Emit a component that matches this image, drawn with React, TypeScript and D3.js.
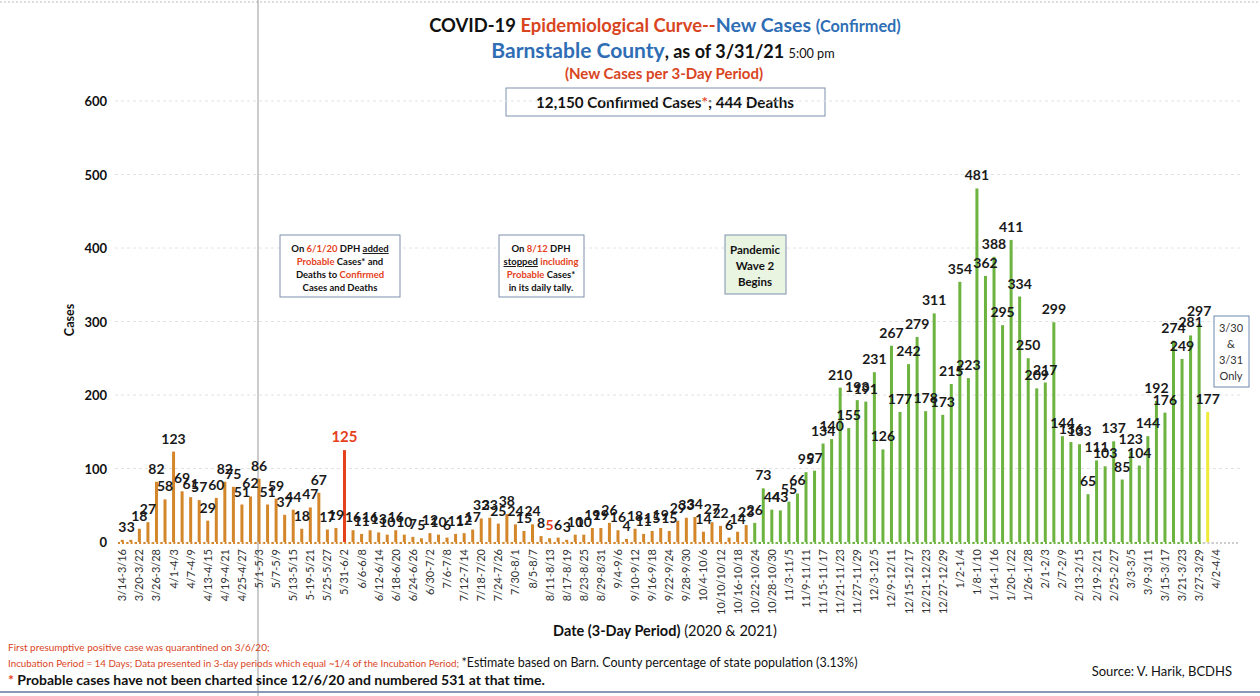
import * as d3 from "d3";

// new confirmed cases per 3-day period, 3/14/20 .. 3/30/21
const cases = [
  3, 3, 18, 27, 82, 58, 123, 69, 61, 57, 29, 60, 82, 75, 51, 62, 86, 51, 59, 37,
  44, 18, 47, 67, 17, 19, 125, 16, 11, 16, 13, 10, 16, 10, 7, 5, 12, 10, 6, 11,
  12, 17, 32, 33, 25, 38, 24, 15, 24, 8, 5, 6, 3, 10, 10, 19, 19, 26, 16, 4,
  18, 11, 15, 19, 15, 29, 33, 34, 14, 27, 22, 6, 14, 23, 26, 73, 44, 43, 55, 66,
  95, 97, 134, 140, 210, 155, 193, 191, 231, 126, 267, 177, 242, 279, 178, 311, 173, 215, 354, 223,
  481, 362, 388, 295, 411, 334, 250, 209, 217, 299, 144, 136, 133, 65, 111, 103, 137, 85, 123, 104,
  144, 192, 176, 274, 249, 281, 297, 177,
];

// x axis shows every other period
const tickLabels = [
  "3/14-3/16", "3/20-3/22", "3/26-3/28", "4/1-4/3", "4/7-4/9", "4/13-4/15", "4/19-4/21", "4/25-4/27",
  "5/1-5/3", "5/7-5/9", "5/13-5/15", "5-19-5/21", "5/25-5/27", "5/31-6/2", "6/6-6/8", "6/12-6/14",
  "6/18-6/20", "6/24-6/26", "6/30-7/2", "7/6-7/8", "7/12-7/14", "7/18-7/20", "7/24-7/26", "7/30-8/1",
  "8/5-8/7", "8/11-8/13", "8/17-8/19", "8/23-8/25", "8/29-8/31", "9/4-9/6", "9/10-9/12", "9/16-9/18",
  "9/22-9/24", "9/28-9/30", "10/4-10/6", "10/10/10/12", "10/16-10/18", "10/22-10/24", "10/28-10/30", "11/3-11/5",
  "11/9-11/11", "11/15-11/17", "11/21-11/23", "11/27-11/29", "12/3-12/5", "12/9-12/11", "12/15-12/17", "12/21-12/23",
  "12/27-12/29", "1/2-1/4", "1/8-1/10", "1/14-1/16", "1/20-1/22", "1/26-1/28", "2/1-2/3", "2/7-2/9",
  "2/13-2/15", "2/19-2/21", "2/25-2/27", "3/3-3/5", "3/9-3/11", "3/15-3/17", "3/21-3/23", "3/27-3/29",
  "4/2-4/4",
];

const yTicks = [0, 100, 200, 300, 400, 500, 600];

const nPeriods = 129;
const wave2Start = 74; // 10/22-10/24
const probableSpike = 26; // 5/31-6/2
const partialPeriod = 127; // 3/30 & 3/31 only
const redLabel = 50;

const ORANGE = "#D4862B";
const GREEN = "#6DB33F";
const RED = "#E5411C";
const YELLOW = "#F0EA3A";
const TITLE_RED = "#D9451E";
const BLUE = "#2F6EB5";
const FONT = "Lato, 'Open Sans', sans-serif";

function barColor(i: number) {
  if (i === probableSpike) return RED;
  if (i === partialPeriod) return YELLOW;
  return i >= wave2Start ? GREEN : ORANGE;
}

export default function App() {
  const x = d3.scaleBand<number>().domain(d3.range(nPeriods)).range([118, 1220.5]).padding(0);
  const y = d3.scaleLinear().domain([0, 600]).range([542, 101]);
  const bw = 3;
  const cx = (i: number) => (x(i) as number) + x.bandwidth() / 2;

  return (
    <div style={{ position: "absolute", left: 0, top: 0 }}>
      <svg width={1260} height={696} style={{ display: "block", background: "#fff" }} fontFamily={FONT}>
        {/* page borders from the scan */}
        <line x1={0} x2={1260} y1={2} y2={2} stroke="#bbb" strokeDasharray="2,2" />
        <line x1={258} x2={258} y1={0} y2={696} stroke="#999" strokeWidth={1} />
        <line x1={0} x2={1260} y1={692} y2={692} stroke="#8a97b5" strokeWidth={2} />

        {/* title */}
        <text x={665} y={32} textAnchor="middle" fontWeight="bold" fontSize={18.4}>
          <tspan fill="#111">COVID-19 </tspan>
          <tspan fill={TITLE_RED}>Epidemiological Curve--</tspan>
          <tspan fill={BLUE} fontSize={19.5}>New Cases </tspan>
          <tspan fill={BLUE} fontSize={16.3}>(Confirmed)</tspan>
        </text>
        <text x={663} y={58} textAnchor="middle" fontWeight="bold">
          <tspan fill={BLUE} fontSize={21}>Barnstable County</tspan>
          <tspan fill="#111" fontSize={18}>, as of 3/31/21 </tspan>
          <tspan fill="#111" fontSize={12.7} fontWeight="normal">5:00 pm</tspan>
        </text>
        <text x={664} y={79} textAnchor="middle" fontWeight="bold" fontSize={15} fill={TITLE_RED}>
          (New Cases per 3-Day Period)
        </text>
        <rect x={506} y={88} width={319} height={28} fill="#fff" stroke="#7d8fae" />
        <text x={665} y={108} textAnchor="middle" fontWeight="bold" fontSize={15.2} fill="#111">
          12,150 Confirmed Cases<tspan fill={RED}>*</tspan>; 444 Deaths
        </text>

        {/* grid */}
        {yTicks.slice(1).map((t) => (
          <line key={t} x1={115} x2={1240} y1={y(t)} y2={y(t)} stroke="#e2e2e2" strokeDasharray="3,3" />
        ))}
        {yTicks.map((t) => (
          <text key={t} x={107} y={y(t) + 5} textAnchor="end" fontWeight="bold" fontSize={13} fill="#111">
            {t}
          </text>
        ))}
        <text transform="translate(74,320) rotate(-90)" textAnchor="middle" fontWeight="bold" fontSize={12.5} fill="#111">
          Cases
        </text>

        {/* axis baseline, coloured per period */}
        {d3.range(nPeriods).map((i) => (
          <line
            key={i}
            x1={x(i) as number}
            x2={(x(i) as number) + x.bandwidth()}
            y1={y(0) + 1}
            y2={y(0) + 1}
            stroke={i >= partialPeriod ? "#ccc" : i >= wave2Start ? GREEN : ORANGE}
            strokeWidth={2}
            strokeDasharray="2,2"
          />
        ))}
        <line x1={1220} x2={1240} y1={y(0) + 1} y2={y(0) + 1} stroke="#ccc" strokeWidth={2} strokeDasharray="2,2" />

        {/* bars */}
        {cases.map((v, i) => (
          <rect key={i} x={cx(i) - bw / 2} y={y(v)} width={bw} height={y(0) - y(v)} fill={barColor(i)} />
        ))}

        {/* value labels */}
        {cases.map((v, i) => (
          <text
            key={i}
            x={cx(i)}
            y={y(v) - 8}
            textAnchor="middle"
            fontWeight="bold"
            fontSize={i === probableSpike ? 15 : 14}
            fill={i === probableSpike || i === redLabel ? RED : "#1a1a1a"}
          >
            {v}
          </text>
        ))}

        {/* x tick labels */}
        {tickLabels.map((t, k) => (
          <text
            key={t}
            transform={`translate(${cx(k * 2) + 4},549) rotate(-90)`}
            textAnchor="end"
            fontSize={11}
            fill="#333"
          >
            {t}
          </text>
        ))}
        <text x={665} y={636} textAnchor="middle" fontSize={14.5} fill="#111">
          <tspan fontWeight="bold">Date (3-Day Period)</tspan> (2020 &amp; 2021)
        </text>

        {/* annotation boxes */}
        <g fontWeight="bold" fontSize={9.5} textAnchor="middle" fill="#111">
          <rect x={280} y={235} width={120} height={62} fill="#fff" stroke="#7d8fae" />
          <text x={340} y={252}>
            On <tspan fill={RED}>6/1/20</tspan> DPH <tspan textDecoration="underline">added</tspan>
          </text>
          <text x={340} y={265}>
            <tspan fill={RED}>Probable</tspan> Cases* and
          </text>
          <text x={340} y={278}>
            Deaths to <tspan fill={RED}>Confirmed</tspan>
          </text>
          <text x={340} y={291}>Cases and Deaths</text>

          <rect x={499} y={235} width={85} height={62} fill="#fff" stroke="#7d8fae" />
          <text x={541} y={252}>
            On <tspan fill={RED}>8/12</tspan> DPH
          </text>
          <text x={541} y={265}>
            <tspan textDecoration="underline">stopped</tspan> <tspan fill={RED}>including</tspan>
          </text>
          <text x={541} y={278}>
            <tspan fill={RED}>Probable</tspan> Cases*
          </text>
          <text x={541} y={291}>in its daily tally.</text>

          <rect x={725} y={235} width={61} height={59} fill="#e9f4e1" stroke="#7d8fae" />
          <text x={755} y={254} fontSize={11.5}>Pandemic</text>
          <text x={755} y={270} fontSize={11.5}>Wave 2</text>
          <text x={755} y={286} fontSize={11.5}>Begins</text>
        </g>
        <g fontSize={11} textAnchor="middle" fill="#333">
          <rect x={1214} y={316} width={35} height={71} fill="#fff" stroke="#6d87b0" />
          <text x={1231} y={332}>3/30</text>
          <text x={1231} y={348}>&amp;</text>
          <text x={1231} y={364}>3/31</text>
          <text x={1231} y={380}>Only</text>
        </g>

        {/* footnotes */}
        <text x={8} y={651} fontSize={10} fill={TITLE_RED}>
          First presumptive positive case was quarantined on 3/6/20;
        </text>
        <text x={8} y={667} fontSize={9.8} fill={TITLE_RED}>
          Incubation Period = 14 Days; Data presented in 3-day periods which equal ~1/4 of the Incubation Period;{" "}
          <tspan fill="#111" fontSize={12.5}>*Estimate based on Barn. County percentage of state population (3.13%)</tspan>
        </text>
        <text x={8} y={685} fontSize={14} fontWeight="bold" fill="#111">
          <tspan fill={RED}>*</tspan> Probable cases have not been charted since 12/6/20 and numbered 531 at that time.
        </text>
        <text x={1232} y={676} textAnchor="end" fontSize={13} fill="#111">
          Source: V. Harik, BCDHS
        </text>
      </svg>
    </div>
  );
}
